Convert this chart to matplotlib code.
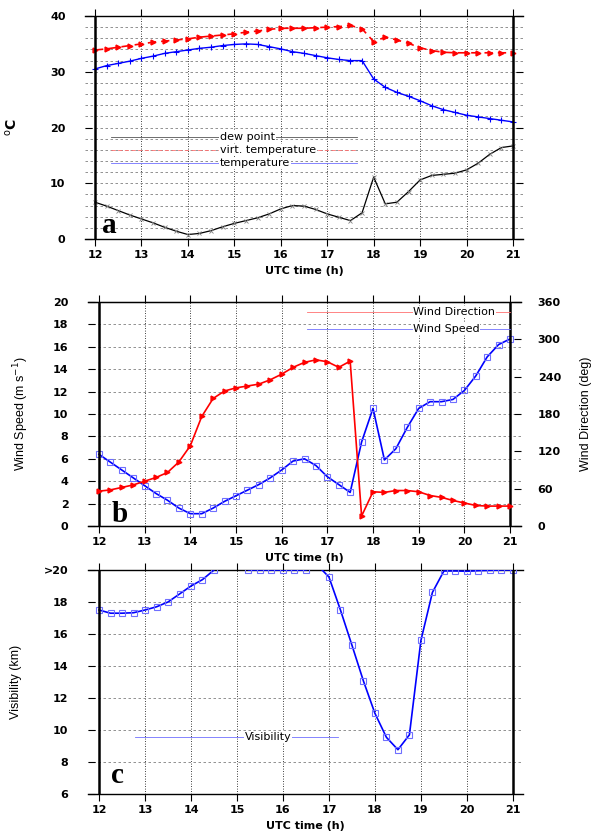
import matplotlib
matplotlib.use('Agg')
import matplotlib.pyplot as plt
import numpy as np

# time axis, every 15 minutes from 12 to 21 UTC
hours = np.arange(12, 21.01, 0.25)

# panel a (deg C)
temperature = [30.5, 31.1, 31.5, 31.9, 32.4, 32.8, 33.3, 33.6, 33.9, 34.2, 34.4, 34.7, 34.9,
               35.0, 34.9, 34.5, 34.1, 33.6, 33.3, 32.9, 32.5, 32.2, 32.0, 32.0, 28.7, 27.2,
               26.3, 25.6, 24.8, 23.9, 23.2, 22.7, 22.2, 21.9, 21.6, 21.3, 21.0]
virt_temperature = [33.9, 34.1, 34.4, 34.7, 35.0, 35.3, 35.5, 35.7, 35.9, 36.2, 36.4, 36.6, 36.8,
                    37.1, 37.3, 37.6, 37.8, 37.8, 37.8, 37.9, 38.0, 38.1, 38.3, 37.7, 35.4, 36.2,
                    35.7, 35.1, 34.3, 33.8, 33.5, 33.4, 33.4, 33.4, 33.4, 33.4, 33.4]
dew_point = [6.6, 5.9, 5.1, 4.3, 3.6, 2.9, 2.1, 1.4, 0.8, 1.0, 1.5, 2.2, 2.8,
             3.3, 3.8, 4.5, 5.4, 6.0, 5.9, 5.3, 4.5, 3.9, 3.3, 4.7, 11.1, 6.3,
             6.6, 8.5, 10.6, 11.4, 11.6, 11.8, 12.4, 13.6, 15.2, 16.4, 16.7]

# panel b
wind_speed = [6.4, 5.7, 5.0, 4.3, 3.6, 2.9, 2.3, 1.6, 1.1, 1.1, 1.6, 2.2, 2.7,
              3.2, 3.7, 4.3, 5.0, 5.8, 6.0, 5.4, 4.4, 3.7, 3.0, 7.5, 10.5, 5.9,
              6.9, 8.8, 10.5, 11.1, 11.1, 11.3, 12.1, 13.4, 15.1, 16.2, 16.7]
wind_dir = [56, 58, 62, 66, 72, 78, 86, 103, 129, 176, 205, 217, 222,
            225, 228, 235, 244, 255, 263, 267, 264, 255, 265, 16, 55, 54,
            57, 57, 55, 49, 46, 41, 37, 33, 32, 32, 32]

# panel c (km), values above 20 are off the scale
visibility = [17.5, 17.3, 17.3, 17.33, 17.5, 17.7, 18.0, 18.5, 19.0, 19.4, 20.0, 21.0, 21.0,
              20.0, 20.0, 20.0, 20.0, 20.0, 20.0, 20.3, 19.56, 17.5, 15.3, 13.06, 11.04, 9.54,
              8.77, 9.7, 15.6, 18.6, 19.94, 19.94, 19.92, 19.96, 19.98, 20.0, 20.0]

W, H = 599, 834
fig = plt.figure(figsize=(W / 100, H / 100), dpi=100)

def px_axes(left, top, right, bottom):
    return fig.add_axes([left / W, 1 - bottom / H, (right - left) / W, (bottom - top) / H])

tick_font = dict(family='DejaVu Sans', weight='bold', size=8)
narrow = ['Liberation Sans Narrow', 'Liberation Sans']


def frame(ax, xlim):
    ax.set_xlim(*xlim)
    ax.spines['left'].set_visible(False)
    ax.spines['right'].set_visible(False)
    ax.spines['top'].set_linewidth(1.0)
    ax.spines['bottom'].set_linewidth(1.0)
    ax.set_xticks(range(12, 22))
    ax.set_xticklabels([str(h) for h in range(12, 22)], fontdict=tick_font)
    ax.tick_params(axis='x', direction='out', length=5, top=True, pad=3)
    ax.tick_params(axis='y', direction='in', length=5, pad=14)
    for h in range(13, 21):
        ax.axvline(h, color='black', lw=0.6, ls=(0, (1, 2)), zorder=1)
    ax.axvline(12, color='black', lw=1.8, zorder=4)
    ax.axvline(21, color='black', lw=1.8, zorder=4)
    ax.set_xlabel('UTC time (h)', fontdict=tick_font, labelpad=4)


def legend_row(ax, y, x0, x1, xt, color, label, ls='-'):
    ax.plot([x0, x1], [y, y], transform=ax.transAxes, color=color, lw=0.6, ls=ls,
            clip_on=False, zorder=5)
    ax.text(xt, y, label, transform=ax.transAxes, va='center', ha='left', fontsize=8,
            family='DejaVu Sans', zorder=6,
            bbox=dict(facecolor='white', edgecolor='none', pad=0.5))


# ---- panel a
ax = px_axes(85, 16, 523, 239)
frame(ax, (11.785, 21.215))
ax.set_ylim(0, 40)
ax.set_yticks([0, 10, 20, 30, 40])
ax.set_yticklabels(['0', '10', '20', '30', '40'], fontdict=tick_font)
ax.tick_params(axis='y', right=True)
for v in range(2, 40, 2):
    ax.axhline(v, color='grey', lw=0.6, ls=(0, (3, 3)), zorder=1)
ax.plot(hours, dew_point, color='black', lw=0.9, marker='x', ms=3.5, mec='grey', mew=0.6, zorder=3)
ax.plot(hours, virt_temperature, color='red', lw=1.2, ls=(0, (5, 3)), marker='>', ms=3.5,
        mec='red', mfc='red', zorder=3)
ax.plot(hours, temperature, color='blue', lw=1.0, marker='+', ms=4, mew=0.8, zorder=3)
ax.set_ylabel('$^{\\mathrm{o}}$C', fontdict=dict(family='DejaVu Sans', size=10, weight='bold'),
              labelpad=22)
legend_row(ax, 0.457, 0.059, 0.621, 0.308, '#555555', 'dew point')
legend_row(ax, 0.399, 0.059, 0.621, 0.308, '#ff7070', 'virt. temperature', ls=(0, (5, 3)))
legend_row(ax, 0.341, 0.059, 0.621, 0.308, '#7070ff', 'temperature')
ax.text(0.039, 0.027, 'a', transform=ax.transAxes, fontsize=21, weight='bold',
        family='Liberation Serif', ha='left', va='baseline', zorder=6)

# ---- panel b
ax = px_axes(88, 302, 521, 526)
frame(ax, (11.76, 21.24))
ax.set_ylim(0, 20)
ax.set_yticks(range(0, 21, 2))
ax.set_yticklabels([str(v) for v in range(0, 21, 2)], fontdict=tick_font)
for v in range(2, 20, 2):
    ax.axhline(v, color='grey', lw=0.6, ls=(0, (3, 3)), zorder=1)
ax2 = ax.twinx()
ax2.set_ylim(0, 360)
ax2.set_yticks(range(0, 361, 60))
ax2.set_yticklabels([str(v) for v in range(0, 361, 60)], fontdict=tick_font)
ax2.tick_params(axis='y', direction='in', length=5, pad=12)
for s in ['left', 'right']:
    ax2.spines[s].set_visible(False)
ax2.plot(hours, wind_dir, color='red', lw=1.2, marker='>', ms=3.5, zorder=3)
ax.plot(hours, wind_speed, color='blue', lw=1.2, marker='s', ms=4, mfc='none', mec='#6f6fff',
        mew=0.8, zorder=3)
ax.set_ylabel('Wind Speed (m s$^{-1}$)', family=narrow, fontsize=9, labelpad=16)
ax2.set_ylabel('Wind Direction (deg)', family=narrow, fontsize=9, labelpad=14)
legend_row(ax2, 0.955, 0.506, 0.975, 0.751, '#ff7070', 'Wind Direction')
legend_row(ax2, 0.879, 0.506, 0.975, 0.751, '#7070ff', 'Wind Speed')
ax2.text(0.055, 0.018, 'b', transform=ax.transAxes, fontsize=21, weight='bold',
         family='Liberation Serif', ha='left', va='baseline', zorder=6)

# ---- panel c
ax = px_axes(88, 570, 523, 794)
frame(ax, (11.76, 21.22))
ax.set_ylim(6, 20)
ax.set_yticks(range(6, 21, 2))
ax.set_yticklabels([str(v) for v in range(6, 20, 2)] + ['>20'], fontdict=tick_font)
for v in range(8, 20, 2):
    ax.axhline(v, color='grey', lw=0.6, ls=(0, (3, 3)), zorder=1)
ax.plot(hours, visibility, color='blue', lw=1.2, marker='s', ms=4, mfc='none', mec='#6f6fff',
        mew=0.8, zorder=3)
ax.set_ylabel('Visibility (km)', family=narrow, fontsize=9, labelpad=16)
legend_row(ax, 0.254, 0.108, 0.575, 0.361, '#7070ff', 'Visibility')
ax.text(0.053, 0.049, 'c', transform=ax.transAxes, fontsize=21, weight='bold',
        family='Liberation Serif', ha='left', va='baseline', zorder=6)

fig.savefig('out.png', dpi=100)
